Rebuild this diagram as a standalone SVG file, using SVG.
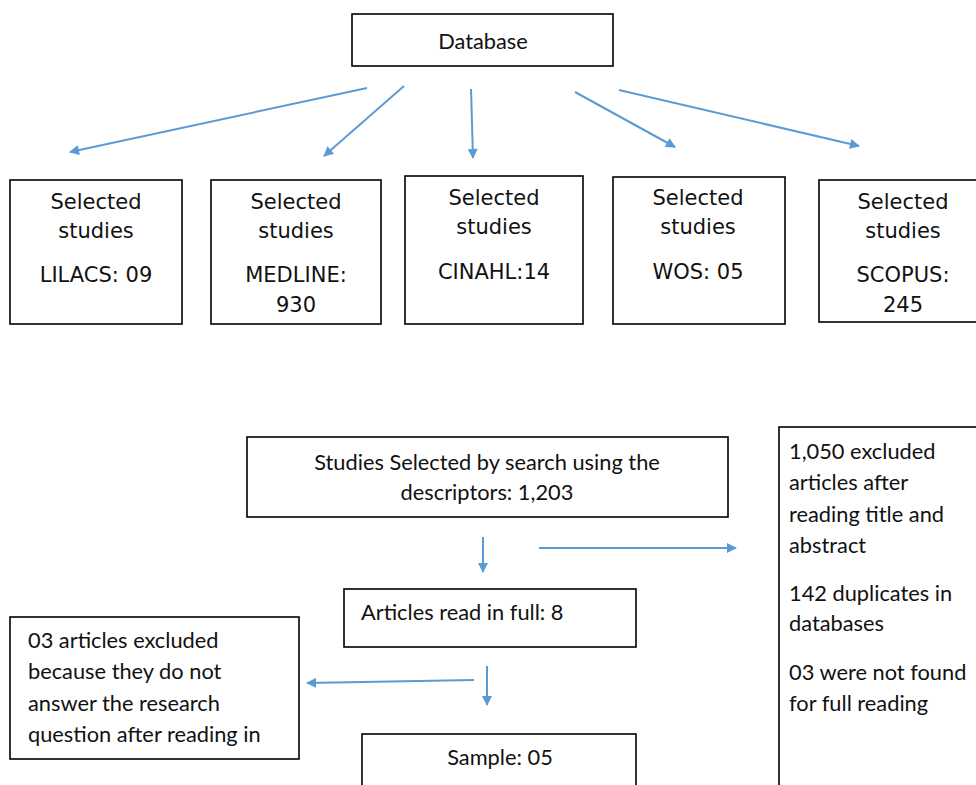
<svg xmlns="http://www.w3.org/2000/svg" width="976" height="785" viewBox="0 0 976 785">
<style>
.box{fill:#fff;stroke:#000;stroke-width:1.6}
.t1{font-family:"DejaVu Sans","Verdana",sans-serif;font-size:21px;fill:#111;text-anchor:middle}
.t2{font-family:"Lato","Open Sans",sans-serif;font-size:21.8px;fill:#111}
.c{text-anchor:middle}
.arr{stroke:#5b9bd5;stroke-width:2;fill:none;marker-end:url(#ah)}
</style>
<defs>
<marker id="ah" viewBox="0 0 10 10" refX="9" refY="5" markerWidth="5.5" markerHeight="5" markerUnits="strokeWidth" orient="auto">
<path d="M0,0 L10,5 L0,10 z" fill="#5b9bd5"/>
</marker>
</defs>
<rect width="976" height="785" fill="#fff"/>
<g id="connectors">
<line class="arr" x1="367" y1="88" x2="70" y2="152"/>
<line class="arr" x1="404" y1="86" x2="324" y2="156"/>
<line class="arr" x1="471" y1="89" x2="473" y2="158"/>
<line class="arr" x1="575" y1="92" x2="675" y2="147"/>
<line class="arr" x1="619" y1="90" x2="859" y2="146"/>
<line class="arr" x1="483" y1="537" x2="483" y2="572"/>
<line class="arr" x1="539" y1="548" x2="736" y2="548"/>
<line class="arr" x1="487" y1="666" x2="487" y2="705"/>
<line class="arr" x1="474" y1="680" x2="307" y2="683"/>
</g>
<g id="database">
<rect class="box" x="352" y="14" width="261" height="52"/>
<text class="t2 c" x="483" y="49" font-size="24">Database</text>
</g>
<g id="lilacs">
<rect class="box" x="10" y="180" width="172" height="144"/>
<text class="t1" x="96" y="209">Selected</text>
<text class="t1" x="96" y="238">studies</text>
<text class="t1" x="96" y="282">LILACS: 09</text>
</g>
<g id="medline">
<rect class="box" x="211" y="180" width="170" height="144"/>
<text class="t1" x="296" y="209">Selected</text>
<text class="t1" x="296" y="238">studies</text>
<text class="t1" x="296" y="282">MEDLINE:</text>
<text class="t1" x="296" y="312">930</text>
</g>
<g id="cinahl">
<rect class="box" x="405" y="176" width="178" height="148"/>
<text class="t1" x="494" y="205">Selected</text>
<text class="t1" x="494" y="234">studies</text>
<text class="t1" x="494" y="279">CINAHL:14</text>
</g>
<g id="wos">
<rect class="box" x="613" y="177" width="172" height="147"/>
<text class="t1" x="698" y="205">Selected</text>
<text class="t1" x="698" y="234">studies</text>
<text class="t1" x="698" y="279">WOS: 05</text>
</g>
<g id="scopus">
<rect class="box" x="819" y="180" width="170" height="142"/>
<text class="t1" x="903" y="209">Selected</text>
<text class="t1" x="903" y="238">studies</text>
<text class="t1" x="903" y="282">SCOPUS:</text>
<text class="t1" x="903" y="312">245</text>
</g>
<g id="search">
<rect class="box" x="247" y="437" width="481" height="80"/>
<text class="t2 c" x="487" y="470">Studies Selected by search using the</text>
<text class="t2 c" x="487" y="500">descriptors: 1,203</text>
</g>
<g id="excluded">
<rect class="box" x="779" y="427" width="210" height="370"/>
<text class="t2" x="789" y="459">1,050 excluded</text>
<text class="t2" x="789" y="490">articles after</text>
<text class="t2" x="789" y="522">reading title and</text>
<text class="t2" x="789" y="553">abstract</text>
<text class="t2" x="789" y="601">142 duplicates in</text>
<text class="t2" x="789" y="631">databases</text>
<text class="t2" x="789" y="680">03 were not found</text>
<text class="t2" x="789" y="711">for full reading</text>
</g>
<g id="fullread">
<rect class="box" x="344" y="589" width="292" height="58"/>
<text class="t2" x="361" y="620">Articles read in full: 8</text>
</g>
<g id="excluded3">
<rect class="box" x="10" y="617" width="289" height="142"/>
<text class="t2" x="28" y="648">03 articles excluded</text>
<text class="t2" x="28" y="679">because they do not</text>
<text class="t2" x="28" y="711">answer the research</text>
<text class="t2" x="28" y="742">question after reading in</text>
</g>
<g id="sample">
<rect class="box" x="362" y="734" width="274" height="60"/>
<text class="t2 c" x="500" y="765">Sample: 05</text>
</g>
</svg>
